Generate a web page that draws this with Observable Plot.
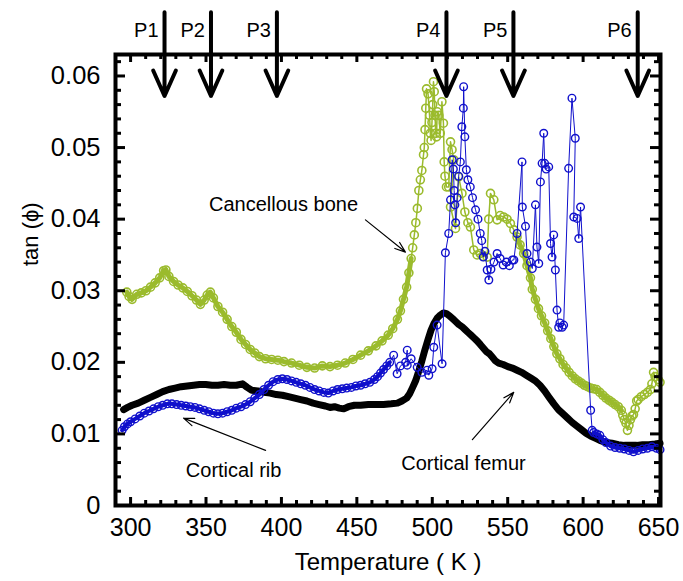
<!DOCTYPE html>
<html>
<head>
<meta charset="utf-8">
<script src="https://cdn.jsdelivr.net/npm/d3@7"></script>
<script src="https://cdn.jsdelivr.net/npm/@observablehq/plot@0.6"></script>
<style>
  html, body { margin: 0; padding: 0; background: #fff; }
</style>
</head>
<body>
<div id="chart"></div>
<script>
// ---- data (Temperature K, tan phi) ----
const cancellous = [
[297.5,0.0298],[299,0.0292],[301,0.0288],[304.1,0.0295],[307.1,0.0297],[310.2,0.0300],[313.2,0.0305],[316.3,0.0311],[319.3,0.0318],[321.9,0.0328],[323.4,0.0329],[325.4,0.0320],[328.5,0.0313],[331.5,0.0308],[334.6,0.0304],[337.6,0.0299],[340.7,0.0293],[343.7,0.0287],[346.3,0.0281],[348.8,0.0287],[350.8,0.0294],[352.9,0.0298],[354.9,0.0290],[357.9,0.0278],[361,0.0270],[364,0.0260],[367.1,0.0250],[370.1,0.0242],[373.2,0.0232],[376.2,0.0225],[379.3,0.0218],[382.3,0.0213],[385.4,0.0208],[389.5,0.0205],[393.5,0.0204],[397.6,0.0203],[401.7,0.0201],[406.7,0.0199],[411.8,0.0196],[416.9,0.0193],[422,0.0192],[427.1,0.0195],[432.2,0.0194],[437.2,0.0196],[442.3,0.0199],[447.4,0.0204],[452.5,0.0210],[457.6,0.0216],[462.7,0.0223],[466.7,0.0230],[470.8,0.0238],[473.8,0.0247],[476.9,0.0260],[478.9,0.0272],[480.9,0.0288],[483,0.0305],[484.5,0.0325],[486,0.0345],[487,0.0360],[488.1,0.0378],[489.1,0.0395],[490.1,0.0415],[491.1,0.0440],[492.1,0.0455],[493.1,0.0468],[494.2,0.0490],[494.7,0.0500],[495.2,0.0525],[495.7,0.0555],[496.2,0.0582],[497.2,0.0575],[498.2,0.0545],[498.7,0.0520],[499.2,0.0510],[499.8,0.0535],[500.3,0.0560],[500.8,0.0592],[501.3,0.0578],[501.8,0.0545],[502.3,0.0520],[502.8,0.0515],[503.3,0.0550],[504.3,0.0545],[505.3,0.0520],[506.4,0.0564],[507.4,0.0534],[507.9,0.0480],[508.4,0.0460],[509.4,0.0445],[510.9,0.0445],[512.1,0.0508],[513.1,0.0497],[514.2,0.0483],[512.1,0.0417],[515.4,0.0387],[517.5,0.0459],[519.7,0.0436],[521.6,0.0410],[523.6,0.0395],[525.3,0.0389],[527.5,0.0357],[529.7,0.0350],[531.8,0.0352],[533.8,0.0348],[536.4,0.0347],[537.4,0.0400],[538.6,0.0436],[540.8,0.0427],[543,0.0399],[545,0.0405],[547.3,0.0403],[549.6,0.0400],[551.8,0.0394],[554.1,0.0385],[556.2,0.0375],[558.2,0.0364],[560.6,0.0352],[562.8,0.0335],[565.1,0.0318],[566.3,0.0302],[568.4,0.0288],[570.4,0.0275],[572.4,0.0265],[574.5,0.0255],[576.5,0.0244],[578.6,0.0233],[580.6,0.0222],[582.6,0.0212],[584.6,0.0205],[586.7,0.0197],[588.7,0.0192],[590.7,0.0186],[592.8,0.0181],[594.8,0.0177],[596.8,0.0174],[598.9,0.0171],[600.9,0.0168],[602.9,0.0166],[605,0.0164],[607,0.0163],[609,0.0162],[611.1,0.0158],[613.1,0.0154],[615.1,0.0150],[617.2,0.0147],[619.2,0.0144],[621.2,0.0141],[623.3,0.0138],[625.3,0.0133],[626.3,0.0126],[627.3,0.0120],[628.4,0.0115],[629.4,0.0105],[630.4,0.0112],[631.4,0.0120],[632.4,0.0125],[633.4,0.0127],[634.5,0.0135],[635.5,0.0146],[636.5,0.0148],[638.5,0.0152],[640.6,0.0155],[642.6,0.0158],[644.6,0.0162],[645.6,0.0170],[646.7,0.0186],[647.7,0.0180],[649.7,0.0176],[651,0.0172]
];
const corticalRib = [
[294.4,0.0105],[295.9,0.0110],[298,0.0114],[300,0.0117],[303,0.0121],[306.1,0.0125],[309.1,0.0129],[312.2,0.0132],[315.2,0.0135],[318.3,0.0138],[321.3,0.0140],[324.4,0.0142],[327.4,0.0142],[330.5,0.0141],[333.5,0.0140],[336.6,0.0139],[339.6,0.0138],[342.7,0.0137],[345.7,0.0135],[348.8,0.0133],[351.8,0.0131],[354.9,0.0129],[357.9,0.0128],[361,0.0129],[364,0.0131],[367.1,0.0133],[370.1,0.0136],[373.2,0.0138],[376.2,0.0141],[379.3,0.0145],[382.3,0.0150],[385.4,0.0155],[388.4,0.0162],[391.5,0.0168],[394.5,0.0173],[397.6,0.0176],[400.6,0.0177],[403.7,0.0176],[406.7,0.0174],[409.8,0.0172],[412.8,0.0170],[415.9,0.0168],[418.9,0.0165],[422,0.0162],[425,0.0160],[428.1,0.0158],[431.1,0.0157],[434.2,0.0160],[437.2,0.0162],[440.3,0.0163],[443.3,0.0164],[446.4,0.0165],[449.4,0.0167],[452.5,0.0168],[455.5,0.0170],[458.6,0.0172],[461.6,0.0176],[463.7,0.0180],[465.7,0.0185],[467.7,0.0190],[469.8,0.0195],[471.8,0.0200],[474.4,0.0210],[476.7,0.0184],[478.9,0.0195],[482.3,0.0200],[483.4,0.0217],[483.4,0.0196],[486,0.0205],[490,0.0193],[493.1,0.0186],[496.6,0.0189],[497.7,0.0182],[499.9,0.0191],[501,0.0221],[503.2,0.0252],[506.5,0.0198],[508.7,0.0353],[510.9,0.0380],[512.1,0.0427],[513.2,0.0483],[514,0.0470],[514.5,0.0440],[515,0.0420],[515.5,0.0395],[516.5,0.0430],[517.5,0.0460],[518.6,0.0480],[519.6,0.0529],[520.6,0.0555],[520.8,0.0585],[521.6,0.0515],[522.6,0.0469],[523.6,0.0455],[525.2,0.0445],[526.7,0.0430],[528.7,0.0413],[530.3,0.0400],[531.8,0.0380],[532.8,0.0370],[533.8,0.0347],[534.9,0.0355],[536.4,0.0329],[537.5,0.0315],[538.9,0.0330],[540.9,0.0340],[543,0.0352],[545,0.0345],[547,0.0336],[549.1,0.0340],[551.1,0.0335],[553.1,0.0343],[554.1,0.0343],[556.2,0.0380],[559.5,0.0480],[559.7,0.0417],[561.8,0.0390],[562.8,0.0352],[565.1,0.0340],[566.3,0.0331],[568.4,0.0420],[569.4,0.0361],[570.6,0.0338],[571.7,0.0452],[572.8,0.0478],[573.9,0.0520],[574.5,0.0478],[575.5,0.0470],[577.2,0.0473],[578.4,0.0366],[579.4,0.0347],[580.5,0.0378],[581.6,0.0329],[582.7,0.0273],[583.8,0.0249],[584.6,0.0255],[586.1,0.0249],[587.1,0.0252],[590.4,0.0471],[592.6,0.0569],[594.8,0.0513],[593.8,0.0403],[596,0.0401],[597.1,0.0373],[598.3,0.0417],[605,0.0133],[606,0.0105],[607,0.0102],[609,0.0100],[611.1,0.0098],[613.1,0.0092],[615.1,0.0088],[618.2,0.0083],[621.2,0.0081],[624.3,0.0080],[627.3,0.0079],[630.4,0.0077],[633.4,0.0075],[636.5,0.0077],[639.5,0.0079],[642.6,0.0080],[645.6,0.0082],[648.7,0.0080],[651,0.0078]
];
const corticalFemur = [
[295.4,0.0134],[298,0.0137],[301,0.0140],[305.1,0.0143],[309.1,0.0147],[313.2,0.0151],[317.3,0.0155],[321.3,0.0159],[325.4,0.0162],[329.5,0.0164],[333.5,0.0166],[337.6,0.0167],[341.7,0.0168],[345.7,0.0169],[349.8,0.0169],[353.9,0.0168],[357.9,0.0168],[362,0.0169],[366.1,0.0168],[370.1,0.0168],[374.2,0.0170],[377.3,0.0165],[380.3,0.0161],[384.4,0.0160],[388.4,0.0158],[392.5,0.0157],[396.6,0.0155],[400.6,0.0154],[404.7,0.0152],[408.8,0.0150],[412.8,0.0148],[416.9,0.0146],[421,0.0143],[425,0.0141],[429.1,0.0139],[432.2,0.0137],[435.2,0.0138],[438.3,0.0136],[441.3,0.0135],[444.4,0.0138],[448.4,0.0140],[452.5,0.0140],[457.6,0.0141],[462.7,0.0141],[467.7,0.0141],[472.8,0.0142],[476.9,0.0143],[479.9,0.0146],[483,0.0150],[485,0.0156],[487,0.0165],[489.1,0.0175],[491.1,0.0188],[493.1,0.0202],[495.2,0.0218],[497.2,0.0232],[499.2,0.0245],[501.3,0.0255],[503.3,0.0262],[505.3,0.0266],[507.4,0.0269],[509.4,0.0268],[511.4,0.0265],[513.5,0.0261],[515.5,0.0257],[517.5,0.0253],[519.6,0.0250],[521.6,0.0246],[523.6,0.0242],[525.7,0.0238],[527.7,0.0234],[529.7,0.0230],[531.8,0.0225],[533.8,0.0220],[535.8,0.0215],[537.9,0.0212],[539.9,0.0207],[541.9,0.0202],[544,0.0199],[547,0.0197],[550.1,0.0194],[553.1,0.0192],[556.2,0.0189],[559.2,0.0186],[562.3,0.0182],[565.3,0.0178],[568.4,0.0174],[571.4,0.0168],[574.5,0.0160],[577.5,0.0151],[580.6,0.0142],[583.6,0.0134],[586.7,0.0128],[589.7,0.0122],[592.8,0.0116],[595.8,0.0111],[598.9,0.0106],[601.9,0.0101],[605,0.0097],[608,0.0094],[611.1,0.0091],[615.1,0.0088],[619.2,0.0087],[623.3,0.0085],[627.3,0.0084],[631.4,0.0084],[635.5,0.0084],[639.5,0.0085],[643.6,0.0085],[647.7,0.0086],[651,0.0087]
];
// peak markers
const peakNames = ["P1","P2","P3","P4","P5","P6"];
const peakTemps = [322.5, 353.3, 397, 509.4, 553.8, 636.2];
// axis ticks
const xTickValues = [300,350,400,450,500,550,600,650];
const yTickValues = [0,0.01,0.02,0.03,0.04,0.05,0.06];
// annotations: label, text position (K, tan), arrow from -> to
const annoLabels = ["Cancellous bone","Cortical rib","Cortical femur"];
const annoText = [[401.4,0.0420],[368.3,0.0049],[520.7,0.0059]];
const annoArrowFrom = [[455.7,0.0399],[389.5,0.0077],[526.6,0.0092]];
const annoArrowTo = [[482.2,0.0354],[335.1,0.0122],[554.0,0.0158]];

// ---- layout ----
const W = 683, H = 581;
const mL = 115, mR = 23, mT = 54, mB = 76;
const innerW = W - mL - mR, innerH = H - mT - mB;
const xDomain = [290, 651.3], yDomain = [0, 0.063];
const xMinor = d3.range(290, 651, 10).filter(d => d % 50 !== 0);
const yMinor = d3.range(0, 0.0631, 0.002).filter(d => Math.round(d * 1000) % 10 !== 0);
const green = "#9bbb2d", blue = "#1010cc";

const toRows = (arr) => arr.map(([t, v]) => ({t, v}));
const greenRows = toRows(cancellous), blueRows = toRows(corticalRib), blackRows = toRows(corticalFemur);
const anno = annoLabels.map((s, i) => ({
  s, tx: annoText[i][0], ty: annoText[i][1],
  x1: annoArrowFrom[i][0], y1: annoArrowFrom[i][1],
  x2: annoArrowTo[i][0], y2: annoArrowTo[i][1]
}));
const peaks = peakNames.map((n, i) => ({n, t: peakTemps[i]}));
const yTop = yDomain[1];

const tickMarks = (major, minor) => {
  const Lmaj = 8, Lmin = 5;
  return [
    Plot.ruleX(major, {x: d => d, insetTop: innerH - Lmaj, strokeWidth: 3}),
    Plot.ruleX(minor, {x: d => d, insetTop: innerH - Lmin, strokeWidth: 3}),
    Plot.ruleX(major, {x: d => d, insetBottom: innerH - Lmaj, strokeWidth: 3}),
    Plot.ruleX(minor, {x: d => d, insetBottom: innerH - Lmin, strokeWidth: 3})
  ];
};
const ytickMarks = (major, minor) => {
  const Lmaj = 10, Lmin = 6;
  return [
    Plot.ruleY(major, {y: d => d, insetRight: innerW - Lmaj, strokeWidth: 3}),
    Plot.ruleY(minor, {y: d => d, insetRight: innerW - Lmin, strokeWidth: 3}),
    Plot.ruleY(major, {y: d => d, insetLeft: innerW - Lmaj, strokeWidth: 3}),
    Plot.ruleY(minor, {y: d => d, insetLeft: innerW - Lmin, strokeWidth: 3})
  ];
};

const chart = Plot.plot({
  width: W, height: H,
  marginLeft: mL, marginRight: mR, marginTop: mT, marginBottom: mB,
  x: {domain: xDomain},
  y: {domain: yDomain},
  style: {fontFamily: "'Liberation Sans', Arial, sans-serif", background: "#fff", color: "#000"},
  marks: [
    // series
    Plot.line(blackRows, {x: "t", y: "v", stroke: "#000", strokeWidth: 7, strokeLinejoin: "round"}),
    Plot.line(greenRows, {x: "t", y: d => (d.t < 487 || (d.t > 556 && d.t < 626)) ? d.v : NaN, stroke: green, strokeWidth: 5, strokeLinejoin: "round"}),
    Plot.line(greenRows, {x: "t", y: "v", stroke: green, strokeWidth: 1.5}),
    Plot.dot(greenRows, {x: "t", y: "v", r: 4, stroke: green, strokeWidth: 1.6, fill: "none"}),
    Plot.line(blueRows, {x: "t", y: d => (d.t < 472 || d.t > 606) ? d.v : NaN, stroke: blue, strokeWidth: 4, strokeLinejoin: "round"}),
    Plot.line(blueRows, {x: "t", y: "v", stroke: blue, strokeWidth: 1}),
    Plot.dot(blueRows, {x: "t", y: "v", r: 3.8, stroke: blue, strokeWidth: 1.4, fill: "none"}),
    // ticks and frame
    ...tickMarks(xTickValues, xMinor),
    ...ytickMarks(yTickValues, yMinor),
    Plot.frame({stroke: "#000", strokeWidth: 4}),
    Plot.axisX(xTickValues, {tickSize: 0, tickPadding: 13, fontSize: 25, label: null}),
    Plot.axisY(yTickValues, {tickSize: 0, tickPadding: 15, fontSize: 25.5, label: null,
      tickFormat: d => d === 0 ? "0" : d3.format(".2f")(d)}),
    Plot.text(["Temperature ( K )"], {frameAnchor: "bottom", dy: 64, fontSize: 24}),
    Plot.text(["tan (\u03d5)"], {frameAnchor: "left", dx: -85, dy: -14, rotate: -90, fontSize: 22}),
    // annotations
    Plot.text(anno, {x: "tx", y: "ty", text: "s", fontSize: 20}),
    Plot.arrow(anno, {x1: "x1", y1: "y1", x2: "x2", y2: "y2", stroke: "#000", strokeWidth: 1.2, headLength: 14, headAngle: 40}),
    // peak arrows
    Plot.arrow(peaks, {x1: "t", x2: "t", y1: () => yTop + 0.0059, y2: () => yTop - 0.0058,
      stroke: "#000", strokeWidth: 4, headLength: 22, headAngle: 48}),
    Plot.text(peaks, {x: "t", y: () => yTop + 0.0034, text: "n", textAnchor: "end", dx: -6, fontSize: 20})
  ]
});
document.getElementById("chart").appendChild(chart);
</script>
</body>
</html>
